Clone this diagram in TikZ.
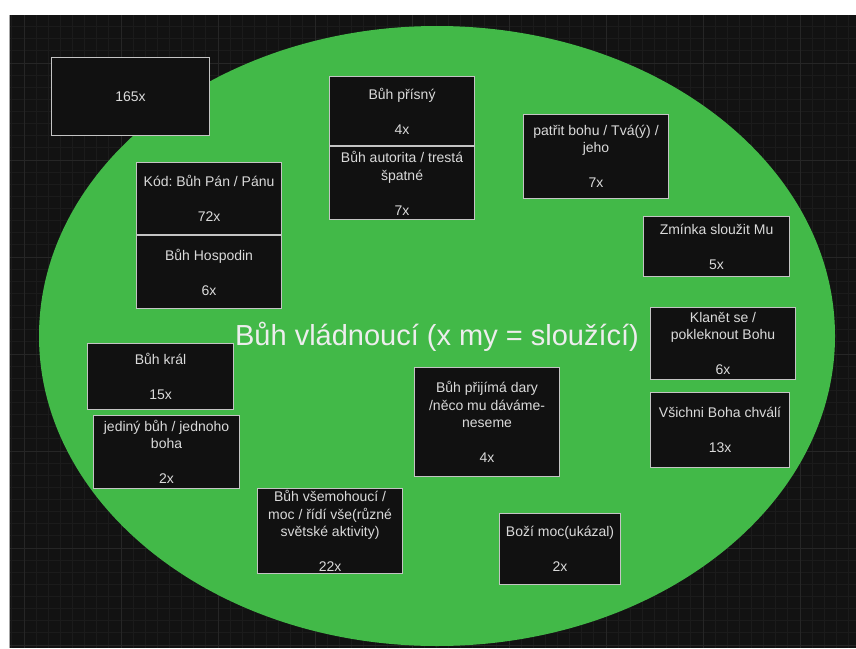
\documentclass[tikz,border=0pt]{standalone}
\usepackage{fontspec}
\setmainfont{Liberation Sans}
\frenchspacing
\usetikzlibrary{positioning}
\definecolor{canvas}{HTML}{121212}
\definecolor{gridfine}{HTML}{1B1B1B}
\definecolor{gridbold}{HTML}{262626}
\definecolor{leaf}{HTML}{42B948}
\definecolor{boxfill}{HTML}{111111}
\definecolor{boxline}{HTML}{C4C4C4}
\definecolor{boxtext}{HTML}{DADADA}
\definecolor{titletext}{HTML}{EDEDED}

\begin{document}
\begin{tikzpicture}[x=1pt, y=-1pt,
    card/.style={draw=boxline, fill=boxfill, line width=1.1pt, text=boxtext, align=center,
        font=\fontsize{14}{17.5}\selectfont, inner sep=0pt, anchor=north west},
    heading/.style={text=titletext, font=\fontsize{29}{34}\selectfont}]
        \useasboundingbox (0,0) rectangle (856,648);
        \fill[white] (0,0) rectangle (856,648);
        \fill[canvas] (9.5,15) rectangle (856,648);
        % background grid
        \foreach \gx in {11.875,24,...,856} \draw[gridfine, line width=0.8pt] (\gx,15) -- (\gx,648);
        \foreach \gy in {26.625,38.75,...,648} \draw[gridfine, line width=0.8pt] (9.5,\gy) -- (856,\gy);
        \foreach \gx in {24,121,...,856} \draw[gridbold, line width=1pt] (\gx,15) -- (\gx,648);
        \foreach \gy in {63,160,...,648} \draw[gridbold, line width=1pt] (9.5,\gy) -- (856,\gy);
        \draw[gray!70, line width=0.8pt] (9.5,15) -- (9.5,648);

        \fill[leaf] (437,336) ellipse [x radius=398pt, y radius=310pt];
        \node[heading] (Tvlad) at (437,337) {Bůh vládnoucí (x my = sloužící)};

        \node[card, minimum width=158pt, minimum height=78pt] (B165) at (51,57) {165x};
        \node[card, minimum width=145pt, minimum height=72pt] (Bpan) at (136,162) {Kód: Bůh Pán / Pánu\\[17.5pt]72x};
        \node[card, minimum width=145pt, minimum height=73pt, below=0 of Bpan] (Bhosp) {Bůh Hospodin\\[17.5pt]6x};
        \node[card, minimum width=145pt, minimum height=69pt] (Bprisny) at (329,76) {Bůh přísný\\[17.5pt]4x};
        \node[card, minimum width=145pt, minimum height=73pt, below=0 of Bprisny] (Bautor) {Bůh autorita / trestá\\špatné\\[17.5pt]7x};
        \node[card, minimum width=145pt, minimum height=84pt] (Bpatrit) at (523,114) {patřit bohu / Tvá(ý) /\\jeho\\[17.5pt]7x};
        \node[card, minimum width=146pt, minimum height=60pt] (Bzminka) at (643,216) {Zmínka sloužit Mu\\[17.5pt]5x};
        \node[card, minimum width=145pt, minimum height=72pt] (Bklanet) at (650,307) {Klanět se /\\pokleknout Bohu\\[17.5pt]6x};
        \node[card, minimum width=139pt, minimum height=75pt] (Bchvali) at (650,392) {Všichni Boha chválí\\[17.5pt]13x};
        \node[card, minimum width=145pt, minimum height=109pt] (Bdary) at (414,367) {Bůh přijímá dary\\/něco mu dáváme-\\neseme\\[17.5pt]4x};
        \node[card, minimum width=121pt, minimum height=71pt] (Bmoc) at (499,513) {Boží moc(ukázal)\\[17.5pt]2x};
        \node[card, minimum width=146pt, minimum height=66pt] (Bkral) at (87,343) {Bůh král\\[17.5pt]15x};
        \node[card, minimum width=146pt, minimum height=73pt] (Bjediny) at (93,415) {jediný bůh / jednoho\\boha\\[17.5pt]2x};
        \node[card, minimum width=145pt, minimum height=85pt] (Bvsemoh) at (257,488) {Bůh všemohoucí /\\moc / řídí vše(různé\\světské aktivity)\\[17.5pt]22x};
\end{tikzpicture}
\end{document}
